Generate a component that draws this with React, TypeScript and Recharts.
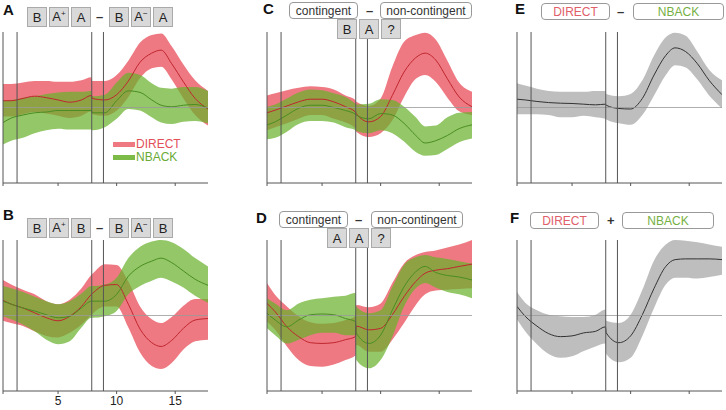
import React from 'react';
import { ComposedChart, Area, Line, XAxis, YAxis, ReferenceLine } from 'recharts';

// time axis (s) shared by all panels
const xs = [0.3, 1, 2, 3, 4, 5, 6, 7, 7.85, 7.92, 9, 10, 11, 12, 13, 13.8, 14.7, 15.7, 16.7, 17.8];
const xTicks = [0.3, 5, 10, 15];
const events = [0.3, 1.5, 7.875, 8.875];

// A: B A+ A - B A- A
const aRedMean = [0.09, 0.09, 0.12, 0.15, 0.13, 0.1, 0.07, 0.1, 0.16, 0.12, 0.1, 0.17, 0.35, 0.6, 0.72, 0.76, 0.58, 0.34, 0.12, -0.02];
const aRedHi = [0.31, 0.31, 0.33, 0.35, 0.35, 0.34, 0.34, 0.36, 0.4, 0.35, 0.35, 0.43, 0.62, 0.86, 0.96, 0.98, 0.81, 0.57, 0.36, 0.22];
const aRedLo = [-0.12, -0.12, -0.09, -0.06, -0.08, -0.11, -0.14, -0.11, -0.05, -0.09, -0.11, -0.04, 0.14, 0.39, 0.52, 0.54, 0.37, 0.12, -0.1, -0.24];
const aGreenMean = [-0.2, -0.14, -0.1, -0.07, -0.06, -0.04, -0.04, -0.04, -0.04, -0.07, -0.07, 0.09, 0.22, 0.2, 0.1, 0.03, 0.01, 0.03, 0.04, -0.01];
const aGreenHi = [0.09, 0.1, 0.13, 0.15, 0.18, 0.2, 0.21, 0.21, 0.22, 0.15, 0.17, 0.33, 0.46, 0.43, 0.32, 0.26, 0.25, 0.27, 0.27, 0.22];
const aGreenLo = [-0.49, -0.44, -0.4, -0.34, -0.3, -0.28, -0.29, -0.29, -0.29, -0.3, -0.26, -0.15, -0.02, -0.04, -0.13, -0.2, -0.22, -0.19, -0.18, -0.21];

// B: B A+ B - B A- B
const bRedMean = [0.2, 0.15, 0.1, 0.035, -0.03, -0.07, -0.01, 0.12, 0.28, 0.29, 0.4, 0.41, 0.15, -0.18, -0.36, -0.41, -0.33, -0.17, -0.06, -0.04];
const bRedHi = [0.47, 0.41, 0.34, 0.28, 0.19, 0.15, 0.21, 0.36, 0.54, 0.55, 0.68, 0.67, 0.45, 0.12, -0.05, -0.1, -0.02, 0.13, 0.22, 0.22];
const bRedLo = [-0.07, -0.1, -0.14, -0.21, -0.27, -0.29, -0.23, -0.12, 0.01, 0.02, 0.12, 0.12, -0.16, -0.49, -0.67, -0.71, -0.63, -0.45, -0.34, -0.32];
const bGreenMean = [0.19, 0.15, 0.1, 0.06, 0.01, -0.03, -0.01, 0.1, 0.19, 0.19, 0.19, 0.28, 0.52, 0.65, 0.72, 0.76, 0.7, 0.59, 0.48, 0.4];
const bGreenHi = [0.39, 0.36, 0.31, 0.25, 0.19, 0.15, 0.19, 0.29, 0.39, 0.39, 0.41, 0.5, 0.76, 0.91, 0.98, 1.0, 0.97, 0.88, 0.76, 0.65];
const bGreenLo = [-0.01, -0.05, -0.12, -0.21, -0.32, -0.38, -0.34, -0.16, -0.03, -0.03, -0.01, 0.06, 0.28, 0.39, 0.46, 0.5, 0.45, 0.37, 0.26, 0.17];

// C: contingent - non-contingent (B A ?)
const cRedMean = [-0.07, -0.035, 0.02, 0.075, 0.11, 0.11, 0.075, 0.01, -0.06, -0.08, -0.19, -0.12, 0.16, 0.47, 0.66, 0.72, 0.63, 0.38, 0.14, 0.01];
const cRedHi = [0.16, 0.19, 0.23, 0.26, 0.28, 0.27, 0.24, 0.16, 0.1, 0.075, 0.02, 0.12, 0.54, 0.87, 0.96, 0.99, 0.9, 0.62, 0.33, 0.21];
const cRedLo = [-0.3, -0.26, -0.21, -0.15, -0.1, -0.1, -0.15, -0.2, -0.28, -0.32, -0.39, -0.34, -0.17, 0.14, 0.38, 0.43, 0.34, 0.13, -0.05, -0.1];
const cGreenMean = [-0.23, -0.19, -0.1, -0.01, 0.03, 0.03, 0, -0.04, -0.09, -0.1, -0.15, -0.08, -0.1, -0.21, -0.37, -0.47, -0.44, -0.37, -0.28, -0.23];
const cGreenHi = [0.01, 0.04, 0.12, 0.2, 0.24, 0.23, 0.19, 0.14, 0.05, 0.04, 0.05, 0.11, 0.1, 0.01, -0.13, -0.25, -0.24, -0.13, -0.07, -0.06];
const cGreenLo = [-0.42, -0.4, -0.32, -0.22, -0.18, -0.18, -0.2, -0.26, -0.3, -0.31, -0.34, -0.3, -0.34, -0.45, -0.59, -0.64, -0.63, -0.55, -0.46, -0.41];

// D: contingent - non-contingent (A A ?)
const dRedMean = [0.16, 0.05, -0.15, -0.28, -0.36, -0.37, -0.36, -0.32, -0.28, -0.14, -0.19, -0.17, 0.01, 0.25, 0.45, 0.56, 0.6, 0.62, 0.65, 0.68];
const dRedHi = [0.43, 0.27, 0.12, -0.01, -0.09, -0.11, -0.1, -0.06, -0.01, 0.14, 0.11, 0.16, 0.43, 0.69, 0.8, 0.84, 0.86, 0.9, 0.94, 1.0];
const dRedLo = [-0.08, -0.19, -0.41, -0.59, -0.67, -0.68, -0.65, -0.59, -0.53, -0.39, -0.48, -0.48, -0.32, -0.1, 0.14, 0.28, 0.33, 0.34, 0.35, 0.36];
const dGreenMean = [0.03, -0.06, -0.15, -0.06, 0.01, 0.02, 0.01, -0.04, -0.08, -0.23, -0.37, -0.26, 0.07, 0.38, 0.58, 0.65, 0.57, 0.53, 0.51, 0.47];
const dGreenHi = [0.23, 0.16, 0.07, 0.16, 0.21, 0.23, 0.25, 0.26, 0.3, 0.12, 0.03, 0.07, 0.38, 0.67, 0.77, 0.8, 0.77, 0.75, 0.72, 0.69];
const dGreenLo = [-0.17, -0.26, -0.37, -0.32, -0.26, -0.23, -0.23, -0.26, -0.26, -0.59, -0.7, -0.59, -0.28, 0.12, 0.36, 0.43, 0.37, 0.31, 0.28, 0.23];

// E: DIRECT - NBACK
const eMean = [0.11, 0.1, 0.08, 0.065, 0.057, 0.053, 0.044, 0.035, 0.044, 0.03, -0.013, -0.02, 0.12, 0.43, 0.69, 0.79, 0.74, 0.58, 0.36, 0.17];
const eHi = [0.32, 0.29, 0.25, 0.22, 0.21, 0.21, 0.21, 0.22, 0.22, 0.18, 0.15, 0.18, 0.36, 0.69, 0.93, 0.99, 0.95, 0.74, 0.5, 0.36];
const eLo = [-0.09, -0.09, -0.09, -0.1, -0.13, -0.13, -0.11, -0.13, -0.15, -0.16, -0.21, -0.23, -0.1, 0.16, 0.43, 0.56, 0.53, 0.37, 0.16, -0.01];

// F: DIRECT + NBACK
const fMean = [0.12, -0.01, -0.14, -0.24, -0.28, -0.27, -0.23, -0.21, -0.15, -0.23, -0.36, -0.27, 0.01, 0.36, 0.65, 0.74, 0.75, 0.75, 0.75, 0.74];
const fHi = [0.31, 0.17, 0.07, 0.01, -0.01, -0.02, -0.02, 0.01, 0.08, -0.07, -0.1, 0.01, 0.34, 0.73, 0.94, 1.0, 0.99, 0.97, 0.94, 0.91];
const fLo = [-0.05, -0.21, -0.38, -0.51, -0.56, -0.54, -0.47, -0.41, -0.37, -0.51, -0.62, -0.56, -0.27, 0.1, 0.41, 0.5, 0.5, 0.49, 0.51, 0.54];

const RED = '#ee7982';
const RED_LINE = '#c0262e';
const GREEN = '#6ab22c';
const GREEN_LINE = '#4a8d22';
const FONT = '"Liberation Sans", Arial, sans-serif';

type Row = { x: number; r?: number[]; rm?: number; g?: number[]; gm?: number };

const pair = (rm: number[], rlo: number[], rhi: number[], gm: number[], glo: number[], ghi: number[]): Row[] =>
  xs.map((x, i) => ({ x, rm: rm[i], r: [rlo[i], rhi[i]], gm: gm[i], g: [glo[i], ghi[i]] }));

const single = (m: number[], lo: number[], hi: number[]): Row[] =>
  xs.map((x, i) => ({ x, gm: m[i], g: [lo[i], hi[i]] }));

const aRows = pair(aRedMean, aRedLo, aRedHi, aGreenMean, aGreenLo, aGreenHi);
const bRows = pair(bRedMean, bRedLo, bRedHi, bGreenMean, bGreenLo, bGreenHi);
const cRows = pair(cRedMean, cRedLo, cRedHi, cGreenMean, cGreenLo, cGreenHi);
const dRows = pair(dRedMean, dRedLo, dRedHi, dGreenMean, dGreenLo, dGreenHi);
const eRows = single(eMean, eLo, eHi);
const fRows = single(fMean, fLo, fHi);

function Panel({ left, top, rows, gray, labels }: { left: number; top: number; rows: Row[]; gray?: boolean; labels?: boolean }) {
  return (
    <div style={{ position: 'absolute', left: left - 3, top: top - 2 }}>
      <ComposedChart width={212} height={172} data={rows} margin={{ top: 2, right: 4, bottom: 0, left: 3 }}>
        <XAxis
          type="number"
          dataKey="x"
          domain={[0.3, 17.8]}
          allowDataOverflow
          ticks={xTicks}
          height={19}
          stroke="#555"
          tickSize={3}
          tick={{ fill: '#222', fontSize: 12, fontFamily: FONT }}
          tickFormatter={(v: number) => (labels && v !== 0.3 ? String(v) : '')}
        />
        <YAxis hide domain={[-1, 1]} allowDataOverflow />
        {gray ? (
          <>
            <Area type="monotone" dataKey="g" stroke="none" fill="#bebebe" fillOpacity={1} isAnimationActive={false} />
            <Line type="monotone" dataKey="gm" stroke="#333" strokeWidth={1} dot={false} isAnimationActive={false} />
          </>
        ) : (
          <>
            <Area type="monotone" dataKey="r" stroke="none" fill={RED} fillOpacity={1} isAnimationActive={false} />
            <Line type="monotone" dataKey="rm" stroke={RED_LINE} strokeWidth={1} dot={false} isAnimationActive={false} />
            <Area type="monotone" dataKey="g" stroke="none" fill={GREEN} fillOpacity={0.72} isAnimationActive={false} />
            <Line type="monotone" dataKey="gm" stroke={GREEN_LINE} strokeWidth={1} dot={false} isAnimationActive={false} />
          </>
        )}
        <ReferenceLine y={0} stroke="#999" strokeWidth={0.8} />
        {events.map(e => (
          <ReferenceLine key={e} x={e} stroke="#555" strokeWidth={1} />
        ))}
      </ComposedChart>
    </div>
  );
}

const abs = (x: number, y: number): React.CSSProperties => ({ position: 'absolute', left: x, top: y });

function Letter({ x, y, t }: { x: number; y: number; t: string }) {
  return <div style={{ ...abs(x, y), fontWeight: 'bold', fontSize: 15, lineHeight: '15px', color: '#111' }}>{t}</div>;
}

function GrayBox({ x, y, children }: { x: number; y: number; children: React.ReactNode }) {
  return (
    <div
      style={{
        ...abs(x, y), width: 20, height: 20, boxSizing: 'border-box', background: '#d9d9d9', border: '1px solid #aaa',
        display: 'flex', alignItems: 'center', justifyContent: 'center', fontSize: 13, color: '#222',
      }}
    >
      {children}
    </div>
  );
}

function WhiteBox({ x, y, w, color, children }: { x: number; y: number; w: number; color?: string; children: React.ReactNode }) {
  return (
    <div
      style={{
        ...abs(x, y), width: w, height: 17, boxSizing: 'border-box', background: '#fff', border: '1px solid #999',
        borderRadius: 4, display: 'flex', alignItems: 'center', justifyContent: 'center', fontSize: 12, color: color ?? '#333',
      }}
    >
      {children}
    </div>
  );
}

function Op({ x, y, t }: { x: number; y: number; t: string }) {
  return <div style={{ ...abs(x, y), fontSize: 13, lineHeight: '13px', fontWeight: 'bold', color: '#333' }}>{t}</div>;
}

const plus = <span>A<sup style={{ fontSize: 8 }}>+</sup></span>;
const minus = <span>A<sup style={{ fontSize: 8 }}>−</sup></span>;

export default function App() {
  return (
    <div style={{ position: 'absolute', left: 0, top: 0, width: 726, height: 410, background: '#fff', fontFamily: FONT, overflow: 'hidden' }}>
      <Panel left={3.3} top={32} rows={aRows} />
      <Panel left={3.3} top={240} rows={bRows} labels />
      <Panel left={267} top={32} rows={cRows} />
      <Panel left={267} top={240} rows={dRows} />
      <Panel left={517.3} top={32} rows={eRows} gray />
      <Panel left={517.3} top={240} rows={fRows} gray />

      <Letter x={3} y={2} t="A" />
      <Letter x={3} y={207} t="B" />
      <Letter x={263} y={1} t="C" />
      <Letter x={256} y={210} t="D" />
      <Letter x={515} y={1} t="E" />
      <Letter x={510} y={210} t="F" />

      {/* A header */}
      <GrayBox x={27} y={7}>B</GrayBox>
      <GrayBox x={49} y={7}>{plus}</GrayBox>
      <GrayBox x={71} y={7}>A</GrayBox>
      <Op x={96} y={10} t="–" />
      <GrayBox x={109} y={7}>B</GrayBox>
      <GrayBox x={131} y={7}>{minus}</GrayBox>
      <GrayBox x={153} y={7}>A</GrayBox>

      {/* A legend */}
      <div style={{ ...abs(113, 142), width: 22, height: 5, background: RED }} />
      <div style={{ ...abs(136, 137), fontSize: 12, color: '#e2505a' }}>DIRECT</div>
      <div style={{ ...abs(113, 155), width: 22, height: 5, background: '#7dbb48' }} />
      <div style={{ ...abs(136, 150), fontSize: 12, color: '#6aaa35' }}>NBACK</div>

      {/* B header */}
      <GrayBox x={27} y={218}>B</GrayBox>
      <GrayBox x={49} y={218}>{plus}</GrayBox>
      <GrayBox x={71} y={218}>B</GrayBox>
      <Op x={96} y={221} t="–" />
      <GrayBox x={109} y={218}>B</GrayBox>
      <GrayBox x={131} y={218}>{minus}</GrayBox>
      <GrayBox x={153} y={218}>B</GrayBox>

      {/* C header */}
      <WhiteBox x={289} y={2} w={69}>contingent</WhiteBox>
      <Op x={366} y={4} t="–" />
      <WhiteBox x={380} y={2} w={92}>non-contingent</WhiteBox>
      <GrayBox x={337} y={19}>B</GrayBox>
      <GrayBox x={359} y={19}>A</GrayBox>
      <GrayBox x={381} y={19}>?</GrayBox>

      {/* D header */}
      <WhiteBox x={279} y={211} w={69}>contingent</WhiteBox>
      <Op x={355} y={213} t="–" />
      <WhiteBox x={371} y={211} w={92}>non-contingent</WhiteBox>
      <GrayBox x={327} y={228}>A</GrayBox>
      <GrayBox x={349} y={228}>A</GrayBox>
      <GrayBox x={371} y={228}>?</GrayBox>

      {/* E header */}
      <WhiteBox x={541} y={3} w={69} color="#e0606a">DIRECT</WhiteBox>
      <Op x={617} y={5} t="–" />
      <WhiteBox x={633} y={3} w={91} color="#76b043">NBACK</WhiteBox>

      {/* F header */}
      <WhiteBox x={530} y={212} w={69} color="#e0606a">DIRECT</WhiteBox>
      <Op x={607} y={214} t="+" />
      <WhiteBox x={622} y={212} w={92} color="#76b043">NBACK</WhiteBox>
    </div>
  );
}
